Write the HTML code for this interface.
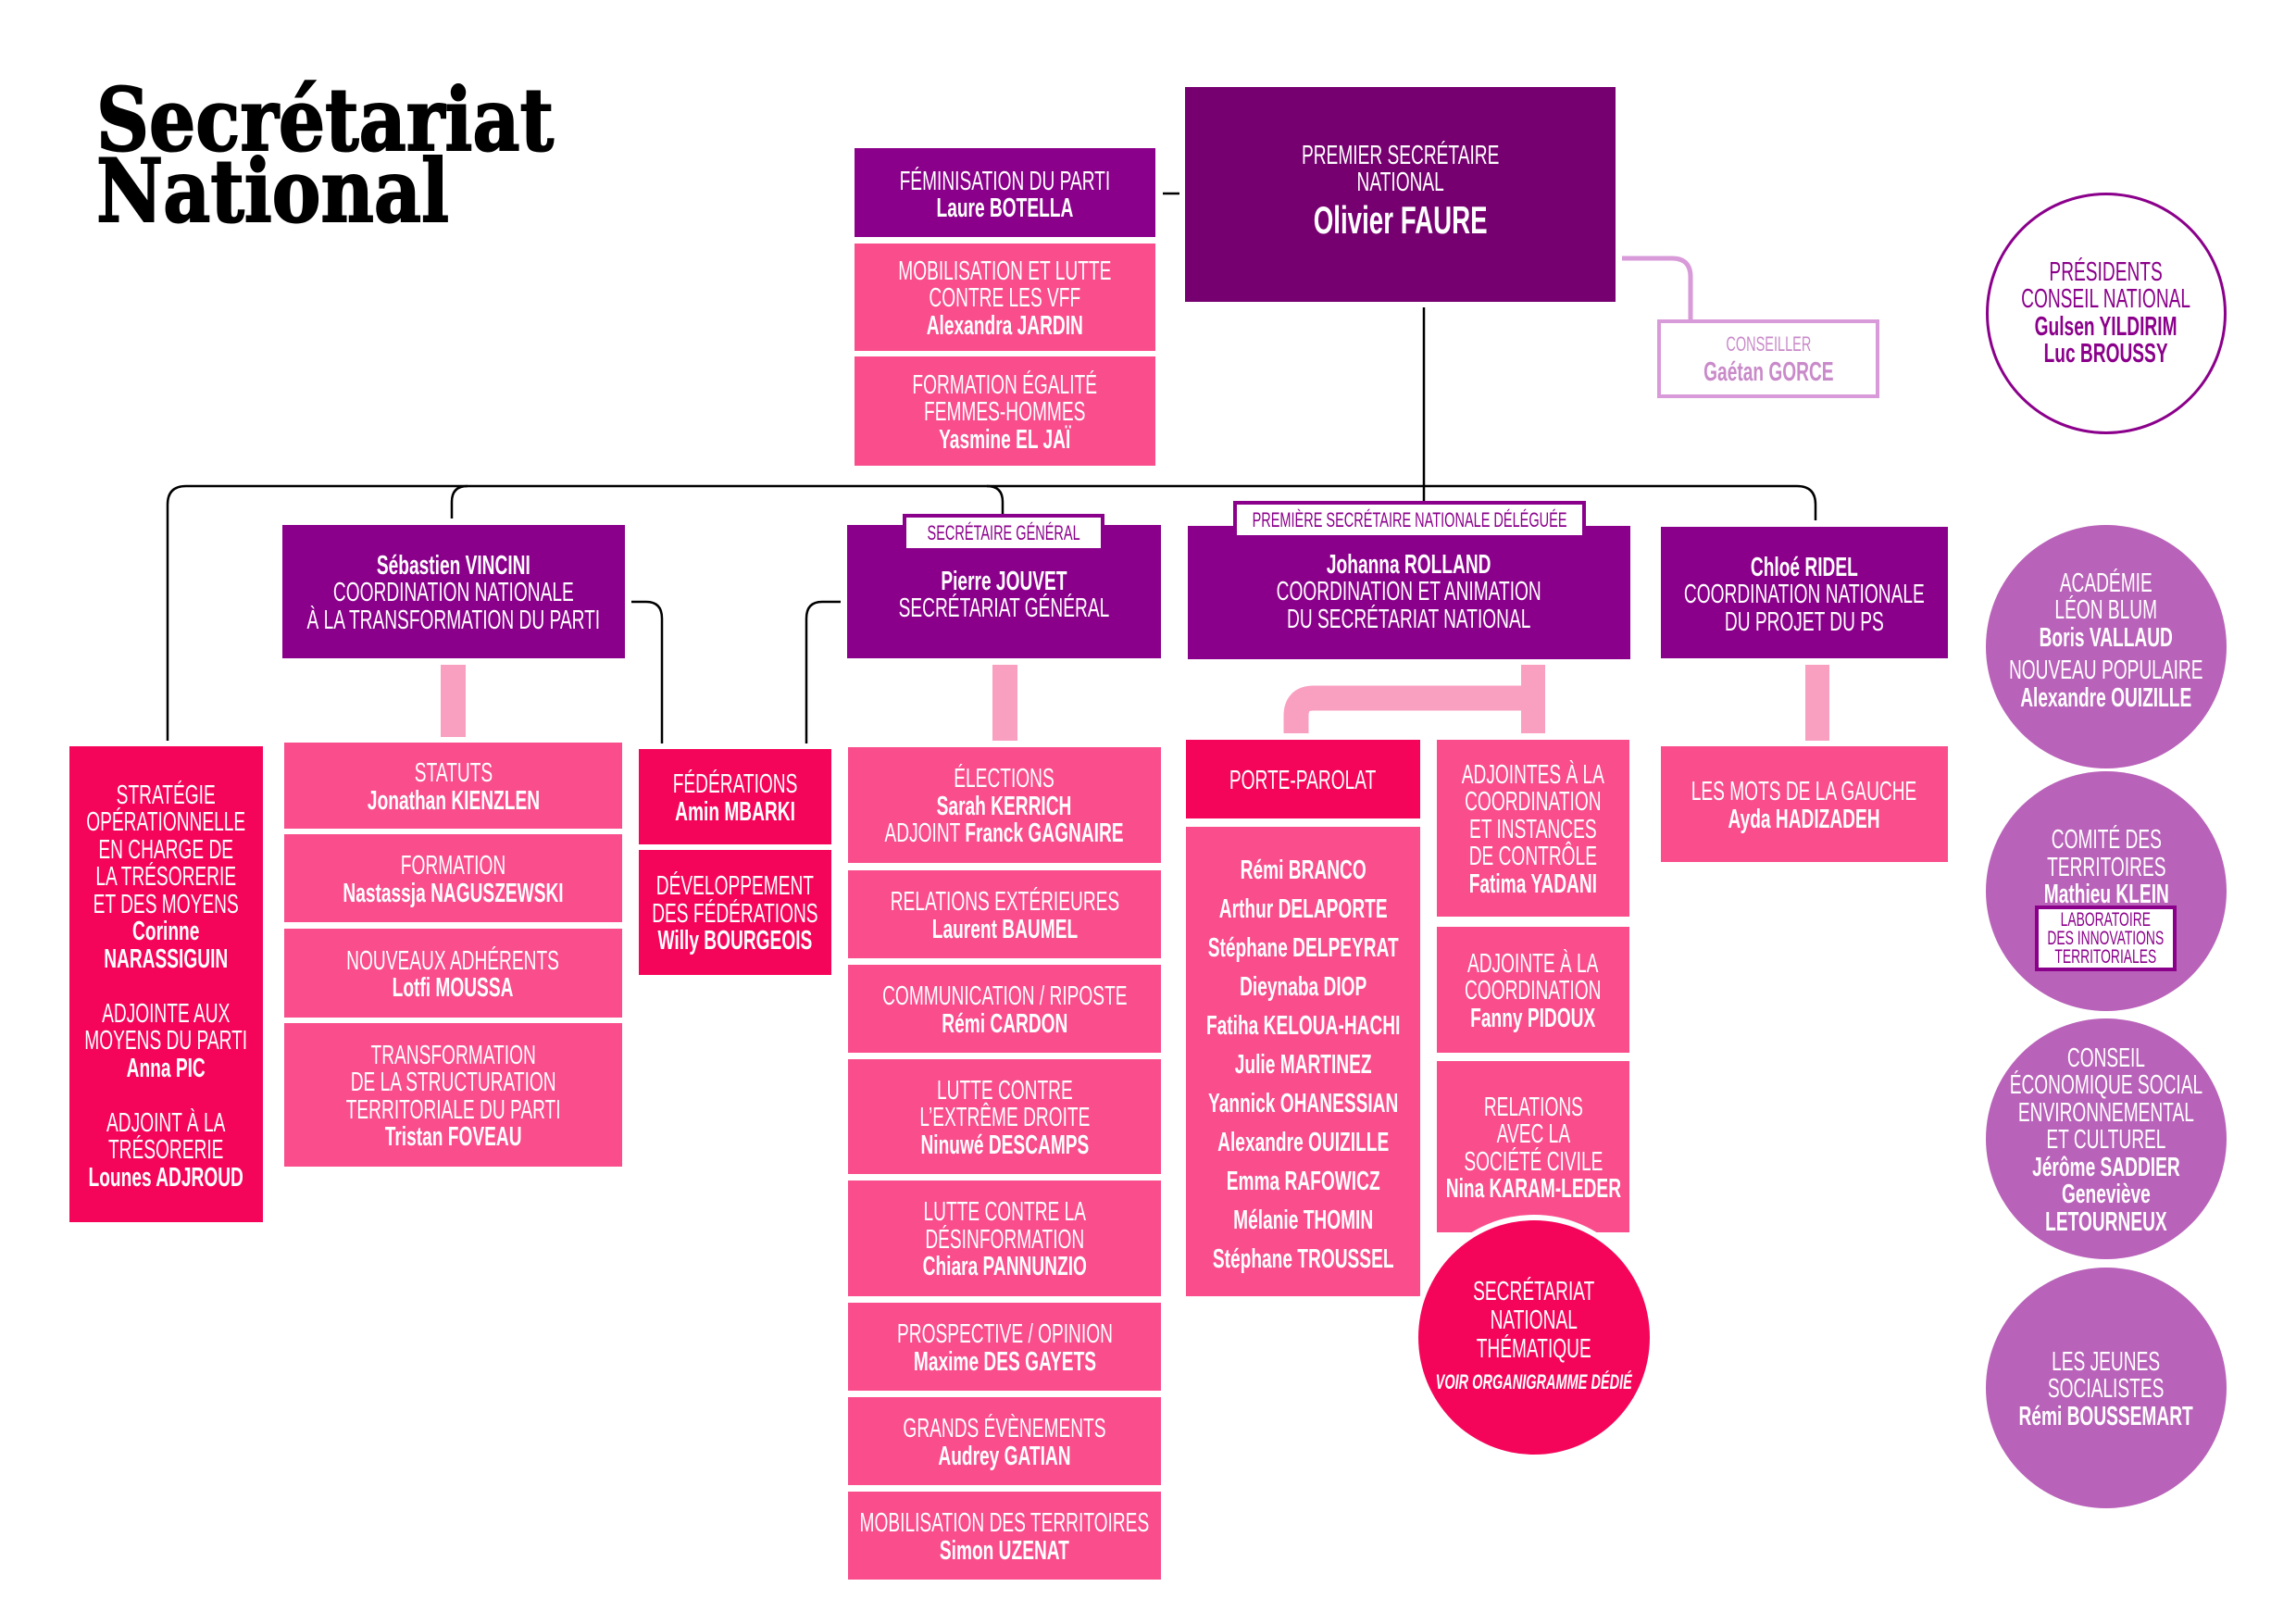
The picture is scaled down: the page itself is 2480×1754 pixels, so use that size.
<!DOCTYPE html>
<html><head><meta charset="utf-8">
<style>
*{margin:0;padding:0;box-sizing:border-box}
body{width:2480px;height:1754px;background:#fff;position:relative;overflow:hidden;font-family:"Liberation Sans",sans-serif}
.b{position:absolute;display:flex;align-items:center;justify-content:center;color:#fff;font-size:29px;line-height:29.5px}
.t{transform:scaleX(.66);white-space:nowrap;text-align:center;flex:none}
.t b{font-weight:bold}
.P{background:#8b008b}
.D{background:#770070}
.K{background:#f94d8c}
.R{background:#f5055a}
.c{position:absolute;border-radius:50%;display:flex;align-items:center;justify-content:center;color:#fff;font-size:29px;line-height:29.5px}
.V{background:#b962b9}
.title{position:absolute;left:104px;font-family:"DejaVu Serif","Liberation Serif",serif;font-weight:bold;font-size:94px;color:#000;transform-origin:0 0;white-space:nowrap;line-height:1;-webkit-text-stroke:2px #000}
</style></head><body>

<div class="title" style="top:83px;transform:scaleX(.84)">Secrétariat</div>
<div class="title" style="top:160px;transform:scaleX(.84)">National</div>

<svg width="2480" height="1754" style="position:absolute;left:0;top:0">
<g fill="none" stroke="#000" stroke-width="2.5">
<path d="M181,800 V545 Q181,525 201,525 H1941 Q1961,525 1961,545 V562"/>
<path d="M488,560 V542 Q488,525 505,525"/>
<path d="M1066,525 Q1083,525 1083,542 V555"/>
<path d="M1538,332 V541"/>
<path d="M682,650 H698 Q715,650 715,668 V803"/>
<path d="M908,650 H888 Q871,650 871,668 V803"/>
<path d="M1256,209 H1274"/>
</g>
<path d="M1752,279 H1806 Q1826,279 1826,299 V345" fill="none" stroke="#d89ad8" stroke-width="5"/>
<g fill="#f9a0c0">
<rect x="476" y="718" width="27" height="78"/>
<rect x="1072" y="718" width="27" height="82"/>
<rect x="1950" y="718" width="26" height="82"/>
<rect x="1643" y="718" width="26" height="74"/>
</g>
<path d="M1400,792 V773 Q1400,754 1419,754 H1655" fill="none" stroke="#f9a0c0" stroke-width="27"/>
</svg>

<!-- top column -->
<div class="b P" style="left:923px;top:160px;width:325px;height:96px;padding-top:6px"><div class="t">FÉMINISATION DU PARTI<br><b>Laure BOTELLA</b></div></div>
<div class="b K" style="left:923px;top:263px;width:325px;height:116px;padding-top:4px"><div class="t">MOBILISATION ET LUTTE<br>CONTRE LES VFF<br><b>Alexandra JARDIN</b></div></div>
<div class="b K" style="left:923px;top:385px;width:325px;height:118px;padding-top:4px"><div class="t">FORMATION ÉGALITÉ<br>FEMMES-HOMMES<br><b>Yasmine EL JAÏ</b></div></div>

<div class="b D" style="left:1280px;top:94px;width:465px;height:232px;padding-bottom:2px"><div class="t" style="line-height:29px">PREMIER SECRÉTAIRE<br>NATIONAL<br><b style="font-size:42px;line-height:52px">Olivier FAURE</b></div></div>

<div class="b" style="left:1790px;top:345px;width:240px;height:85px;border:4px solid #d89ad8;color:#c98ac9;font-size:22px;line-height:30px"><div class="t">CONSEILLER<br><b style="font-size:29px">Gaétan GORCE</b></div></div>

<div class="c" style="left:2145px;top:208px;width:260px;height:261px;border:3px solid #8b008b;color:#8b008b"><div class="t">PRÉSIDENTS<br>CONSEIL NATIONAL<br><b>Gulsen YILDIRIM<br>Luc BROUSSY</b></div></div>

<!-- second row -->
<div class="b P" style="left:305px;top:567px;width:370px;height:144px;padding-top:4px"><div class="t">
<b>Sébastien VINCINI</b><br>COORDINATION NATIONALE<br>À LA TRANSFORMATION DU PARTI</div></div>

<div class="b P" style="left:915px;top:567px;width:339px;height:144px;padding-top:8px"><div class="t"><b>Pierre JOUVET</b><br>SECRÉTARIAT GÉNÉRAL</div></div>
<div class="b" style="left:975px;top:555px;width:218px;height:41px;background:#fff;border:4px solid #8b008b;color:#8b008b;font-size:22px"><div class="t">SECRÉTAIRE GÉNÉRAL</div></div>

<div class="b P" style="left:1283px;top:568px;width:478px;height:144px;padding-top:0px"><div class="t"><b>Johanna ROLLAND</b><br>COORDINATION ET ANIMATION<br>DU SECRÉTARIAT NATIONAL</div></div>
<div class="b" style="left:1332px;top:541px;width:381px;height:41px;background:#fff;border:4px solid #8b008b;color:#8b008b;font-size:22px"><div class="t">PREMIÈRE SECRÉTAIRE NATIONALE DÉLÉGUÉE</div></div>

<div class="b P" style="left:1794px;top:569px;width:310px;height:142px;padding-top:6px"><div class="t"><b>Chloé RIDEL</b><br>COORDINATION NATIONALE<br>DU PROJET DU PS</div></div>

<!-- bottom -->
<div class="b R" style="left:75px;top:806px;width:209px;height:514px;padding-top:6px"><div class="t">STRATÉGIE<br>OPÉRATIONNELLE<br>EN CHARGE DE<br>LA TRÉSORERIE<br>ET DES MOYENS<br><b>Corinne<br>NARASSIGUIN</b><br><br>ADJOINTE AUX<br>MOYENS DU PARTI<br><b>Anna PIC</b><br><br>ADJOINT À LA<br>TRÉSORERIE<br><b>Lounes ADJROUD</b></div></div>

<div class="b K" style="left:307px;top:802px;width:365px;height:93px;padding-top:4px"><div class="t">STATUTS<br><b>Jonathan KIENZLEN</b></div></div>
<div class="b K" style="left:307px;top:901px;width:365px;height:95px;padding-top:4px"><div class="t">FORMATION<br><b>Nastassja NAGUSZEWSKI</b></div></div>
<div class="b K" style="left:307px;top:1003px;width:365px;height:96px;padding-top:4px"><div class="t">NOUVEAUX ADHÉRENTS<br><b>Lotfi MOUSSA</b></div></div>
<div class="b K" style="left:307px;top:1105px;width:365px;height:155px;padding-top:4px"><div class="t">TRANSFORMATION<br>DE LA STRUCTURATION<br>TERRITORIALE DU PARTI<br><b>Tristan FOVEAU</b></div></div>

<div class="b R" style="left:690px;top:809px;width:208px;height:103px;padding-top:4px"><div class="t">FÉDÉRATIONS<br><b>Amin MBARKI</b></div></div>
<div class="b R" style="left:690px;top:918px;width:208px;height:135px;padding-top:4px"><div class="t">DÉVELOPPEMENT<br>DES FÉDÉRATIONS<br><b>Willy BOURGEOIS</b></div></div>

<div class="b K" style="left:916px;top:807px;width:338px;height:125px;padding-top:4px"><div class="t">ÉLECTIONS<br><b>Sarah KERRICH</b><br>ADJOINT <b>Franck GAGNAIRE</b></div></div>
<div class="b K" style="left:916px;top:940px;width:338px;height:95px;padding-top:4px"><div class="t">RELATIONS EXTÉRIEURES<br><b>Laurent BAUMEL</b></div></div>
<div class="b K" style="left:916px;top:1042px;width:338px;height:95px;padding-top:4px"><div class="t">COMMUNICATION / RIPOSTE<br><b>Rémi CARDON</b></div></div>
<div class="b K" style="left:916px;top:1144px;width:338px;height:124px;padding-top:4px"><div class="t">LUTTE CONTRE<br>L’EXTRÊME DROITE<br><b>Ninuwé DESCAMPS</b></div></div>
<div class="b K" style="left:916px;top:1275px;width:338px;height:125px;padding-top:4px"><div class="t">LUTTE CONTRE LA<br>DÉSINFORMATION<br><b>Chiara PANNUNZIO</b></div></div>
<div class="b K" style="left:916px;top:1407px;width:338px;height:95px;padding-top:4px"><div class="t">PROSPECTIVE / OPINION<br><b>Maxime DES GAYETS</b></div></div>
<div class="b K" style="left:916px;top:1509px;width:338px;height:95px;padding-top:4px"><div class="t">GRANDS ÉVÈNEMENTS<br><b>Audrey GATIAN</b></div></div>
<div class="b K" style="left:916px;top:1611px;width:338px;height:95px;padding-top:4px"><div class="t">MOBILISATION DES TERRITOIRES<br><b>Simon UZENAT</b></div></div>

<div class="b R" style="left:1281px;top:799px;width:253px;height:85px;padding-top:4px"><div class="t">PORTE-PAROLAT</div></div>
<div class="b K" style="left:1281px;top:893px;width:253px;height:507px;line-height:42px;padding-top:6px"><div class="t"><b>Rémi BRANCO<br>Arthur DELAPORTE<br>Stéphane DELPEYRAT<br>Dieynaba DIOP<br>Fatiha KELOUA-HACHI<br>Julie MARTINEZ<br>Yannick OHANESSIAN<br>Alexandre OUIZILLE<br>Emma RAFOWICZ<br>Mélanie THOMIN<br>Stéphane TROUSSEL</b></div></div>

<div class="b K" style="left:1552px;top:799px;width:208px;height:191px;padding-top:4px"><div class="t">ADJOINTES À LA<br>COORDINATION<br>ET INSTANCES<br>DE CONTRÔLE<br><b>Fatima YADANI</b></div></div>
<div class="b K" style="left:1552px;top:1001px;width:208px;height:136px;padding-top:4px"><div class="t">ADJOINTE À LA<br>COORDINATION<br><b>Fanny PIDOUX</b></div></div>
<div class="b K" style="left:1552px;top:1146px;width:208px;height:185px;padding-top:4px"><div class="t">RELATIONS<br>AVEC LA<br>SOCIÉTÉ CIVILE<br><b>Nina KARAM-LEDER</b></div></div>

<div class="c R" style="left:1526px;top:1312px;width:262px;height:265px;border:6px solid #fff;line-height:31px;padding-top:4px"><div class="t">SECRÉTARIAT<br>NATIONAL<br>THÉMATIQUE<br><b style="font-size:22px;font-style:italic;line-height:40px">VOIR ORGANIGRAMME DÉDIÉ</b></div></div>

<div class="b K" style="left:1794px;top:806px;width:310px;height:125px;padding-top:4px"><div class="t">LES MOTS DE LA GAUCHE<br><b>Ayda HADIZADEH</b></div></div>

<div class="c V" style="left:2145px;top:567px;width:260px;height:263px;padding-bottom:12px"><div class="t">ACADÉMIE<br>LÉON BLUM<br><b>Boris VALLAUD</b><br><span style="display:block;height:6px"></span>NOUVEAU POPULAIRE<br><b>Alexandre OUIZILLE</b></div></div>
<div class="c V" style="left:2145px;top:833px;width:260px;height:259px;padding-bottom:50px"><div class="t">COMITÉ DES<br>TERRITOIRES<br><b>Mathieu KLEIN</b></div></div>
<div class="b" style="left:2198px;top:978px;width:153px;height:71px;background:#fff;border:4px solid #8b008b;color:#8b008b;font-size:21px;line-height:20px"><div class="t">LABORATOIRE<br>DES INNOVATIONS<br>TERRITORIALES</div></div>
<div class="c V" style="left:2145px;top:1100px;width:260px;height:260px;padding-top:4px"><div class="t">CONSEIL<br>ÉCONOMIQUE SOCIAL<br>ENVIRONNEMENTAL<br>ET CULTUREL<br><b>Jérôme SADDIER<br>Geneviève<br>LETOURNEUX</b></div></div>
<div class="c V" style="left:2145px;top:1369px;width:260px;height:260px;padding-top:4px"><div class="t">LES JEUNES<br>SOCIALISTES<br><b>Rémi BOUSSEMART</b></div></div>

</body></html>
